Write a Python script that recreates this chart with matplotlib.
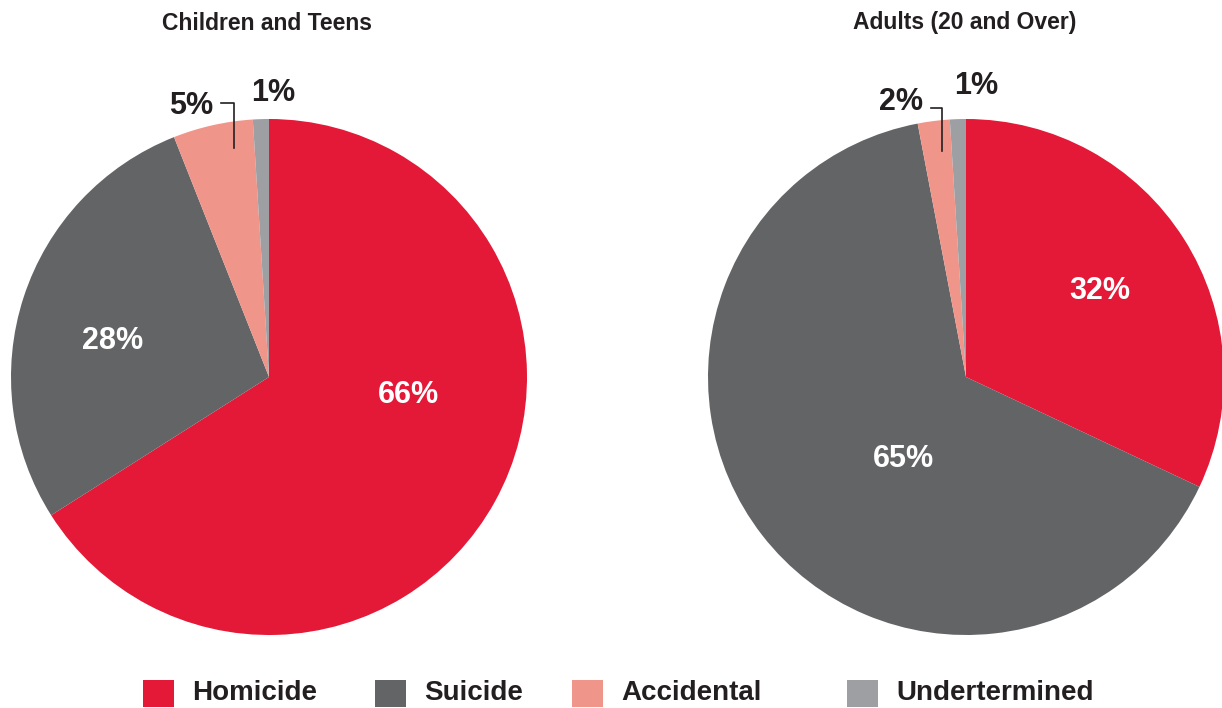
import matplotlib.pyplot as plt
from matplotlib.patches import Rectangle

plt.rcParams['font.family'] = ['Liberation Sans', 'DejaVu Sans']
plt.rcParams['font.weight'] = 'bold'

# Share of gun deaths by intent
categories = ["Homicide", "Suicide", "Accidental", "Undertermined"]
colors = ["#E31937", "#636466", "#F0958A", "#9D9FA2"]
children_teens = [66, 28, 5, 1]
adults = [32, 65, 2, 1]

TEXT = "#231F20"
W, H = 1222, 708

fig = plt.figure(figsize=(W / 100, H / 100), dpi=100)
ax = fig.add_axes([0, 0, 1, 1])


def draw_pie(values, cx, cy, r, title, title_x, inner, outer, leader):
    ax.pie(values, colors=colors, startangle=90, counterclock=False,
           center=(cx, H - cy), radius=r,
           wedgeprops=dict(linewidth=0))
    ax.text(title_x, H - 23, title, ha="center", va="center",
            fontsize=16.5, color=TEXT)
    # values inside the big wedges (white)
    for i, (dx, dy) in inner.items():
        ax.text(cx + dx, H - cy - dy, f"{values[i]}%", ha="center",
                va="center", fontsize=22, color="white")
    # small wedges labelled outside
    for i, (x, y) in outer.items():
        ax.text(x, H - y, f"{values[i]}%", ha="center", va="center",
                fontsize=22, color=TEXT)
    xs, ys = leader
    ax.plot(xs, [H - y for y in ys], color=TEXT, lw=1.2)


draw_pie(children_teens, 269, 377, 258, "Children and Teens", 267,
         inner={0: (139, 18), 1: (-156, -36)},
         outer={2: (191, 106), 3: (273, 93)},
         leader=([221, 234, 234], [103, 103, 148]))

draw_pie(adults, 966, 377, 258, "Adults (20 and Over)", 965,
         inner={0: (134, -86), 1: (-63, 82)},
         outer={2: (901, 102), 3: (976, 86)},
         leader=([931, 942, 942], [108, 108, 151]))

# legend row along the bottom
legend_x = [143, 375, 572, 847]
for name, col, x in zip(categories, colors, legend_x):
    ax.add_patch(Rectangle((x, H - 707), 31, 27, color=col, lw=0))
    ax.text(x + 49, H - 693, name, ha="left", va="center",
            fontsize=20, color=TEXT)

ax.set_xlim(0, W)
ax.set_ylim(0, H)
ax.set_aspect("equal")
ax.axis("off")

fig.savefig("out.png", dpi=100, facecolor="white")
